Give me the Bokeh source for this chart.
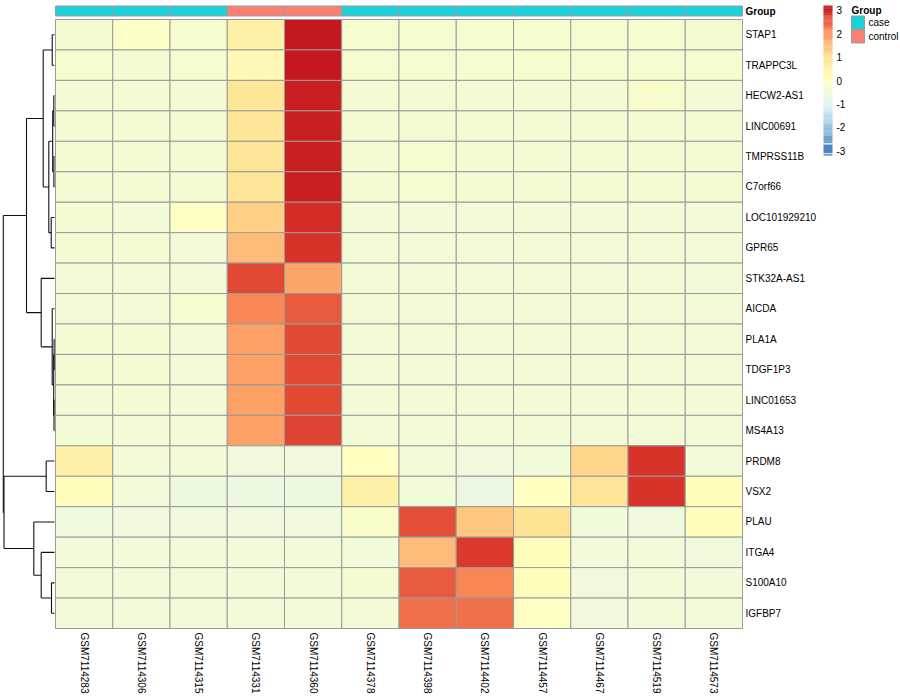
import numpy as np
from bokeh.plotting import figure
from bokeh.models import Range1d, ColumnDataSource, LinearColorMapper
from bokeh.transform import transform
from bokeh.core.properties import value
from bokeh.embed import file_html
from bokeh.resources import INLINE

# ---------------- data ----------------
samples = ["GSM7114283", "GSM7114306", "GSM7114315", "GSM7114331", "GSM7114360", "GSM7114378",
           "GSM7114398", "GSM7114402", "GSM7114457", "GSM7114467", "GSM7114519", "GSM7114573"]
groups = ["case", "case", "case", "control", "control", "case",
          "case", "case", "case", "case", "case", "case"]
genes = ["STAP1", "TRAPPC3L", "HECW2-AS1", "LINC00691", "TMPRSS11B", "C7orf66",
         "LOC101929210", "GPR65", "STK32A-AS1", "AICDA", "PLA1A", "TDGF1P3",
         "LINC01653", "MS4A13", "PRDM8", "VSX2", "PLAU", "ITGA4", "S100A10", "IGFBP7"]

z_STAP1 = [-0.36, -0.12, -0.34, 0.50, 3.10, -0.34, -0.33, -0.34, -0.32, -0.33, -0.34, -0.35]
z_TRAPPC3L = [-0.33, -0.35, -0.33, 0.20, 3.12, -0.32, -0.31, -0.32, -0.27, -0.31, -0.33, -0.34]
z_HECW2AS1 = [-0.35, -0.38, -0.39, 0.85, 3.05, -0.38, -0.38, -0.36, -0.38, -0.36, -0.22, -0.40]
z_LINC00691 = [-0.35, -0.37, -0.36, 0.90, 3.04, -0.36, -0.35, -0.38, -0.37, -0.38, -0.38, -0.38]
z_TMPRSS11B = [-0.35, -0.35, -0.35, 0.90, 3.04, -0.36, -0.34, -0.35, -0.36, -0.38, -0.35, -0.37]
z_C7orf66 = [-0.35, -0.35, -0.35, 0.90, 3.04, -0.36, -0.34, -0.35, -0.35, -0.38, -0.35, -0.36]
z_LOC101929210 = [-0.39, -0.41, -0.06, 1.24, 2.97, -0.41, -0.41, -0.41, -0.41, -0.41, -0.41, -0.42]
z_GPR65 = [-0.37, -0.37, -0.40, 1.49, 2.90, -0.40, -0.40, -0.40, -0.40, -0.40, -0.40, -0.42]
z_STK32AAS1 = [-0.42, -0.41, -0.42, 2.71, 1.80, -0.43, -0.42, -0.42, -0.42, -0.44, -0.44, -0.45]
z_AICDA = [-0.41, -0.42, -0.30, 2.13, 2.55, -0.43, -0.42, -0.42, -0.42, -0.44, -0.44, -0.44]
z_PLA1A = [-0.39, -0.39, -0.42, 1.87, 2.71, -0.42, -0.42, -0.42, -0.42, -0.44, -0.44, -0.44]
z_TDGF1P3 = [-0.39, -0.38, -0.42, 1.87, 2.71, -0.42, -0.42, -0.42, -0.42, -0.44, -0.44, -0.44]
z_LINC01653 = [-0.40, -0.39, -0.42, 1.87, 2.71, -0.42, -0.41, -0.42, -0.42, -0.44, -0.44, -0.44]
z_MS4A13 = [-0.40, -0.40, -0.42, 1.87, 2.73, -0.42, -0.41, -0.42, -0.42, -0.44, -0.44, -0.44]
z_PRDM8 = [0.50, -0.42, -0.42, -0.52, -0.52, -0.03, -0.45, -0.55, -0.49, 1.15, 2.92, -0.45]
z_VSX2 = [0.05, -0.47, -0.62, -0.62, -0.62, 0.50, -0.47, -0.65, 0.00, 0.90, 2.90, 0.05]
z_PLAU = [-0.59, -0.57, -0.59, -0.59, -0.59, -0.19, 2.64, 1.35, 0.95, -0.47, -0.57, 0.05]
z_ITGA4 = [-0.47, -0.47, -0.47, -0.47, -0.47, -0.45, 1.49, 2.86, 0.05, -0.47, -0.49, -0.52]
z_S100A10 = [-0.47, -0.47, -0.47, -0.47, -0.47, -0.37, 2.55, 2.13, 0.05, -0.52, -0.49, -0.47]
z_IGFBP7 = [-0.49, -0.49, -0.49, -0.49, -0.49, -0.42, 2.33, 2.33, -0.08, -0.52, -0.49, -0.49]

z_rows = [z_STAP1, z_TRAPPC3L, z_HECW2AS1, z_LINC00691, z_TMPRSS11B, z_C7orf66,
          z_LOC101929210, z_GPR65, z_STK32AAS1, z_AICDA, z_PLA1A, z_TDGF1P3,
          z_LINC01653, z_MS4A13, z_PRDM8, z_VSX2, z_PLAU, z_ITGA4, z_S100A10, z_IGFBP7]

# row dendrogram (scipy-like linkage: new cluster ids start at 20)
merge_a = [0, 2, 4, 21, 6, 23, 20, 10, 12, 27, 9, 8, 26, 14, 18, 17, 16, 33, 32]
merge_b = [1, 3, 5, 22, 7, 24, 25, 11, 13, 28, 29, 30, 31, 15, 19, 34, 35, 36, 37]
merge_h = [2.3, 0.7, 0.6, 1.8, 3.3, 5.7, 11.3, 0.4, 0.5, 0.8, 2.3, 13.3, 28.0,
           8.3, 3.0, 13.3, 20.7, 50.5, 51.2]

legend_ticks = [3, 2, 1, 0, -1, -2, -3]
group_levels = ["case", "control"]
group_colors = ["#1CD2DA", "#FA8072"]

# ---------------- layout ----------------
W, H = 900, 700
HM_L, HM_R, HM_T, HM_B = 55, 742, 19, 628
ncol, nrow = len(samples), len(genes)
cw = (HM_R - HM_L) / ncol
rh = (HM_B - HM_T) / nrow


def fx(px):
    return (px - HM_L) / cw


def fy(py):
    return (py - HM_T) / rh


FONT = value("Liberation Sans")

zmax = 3.17
pal_pos = [-3.17, -2.11, -1.06, 0.0, 1.06, 2.11, 2.95, 3.17]
pal_col = ["#4575B4", "#91BFDB", "#E0F3F8", "#FFFFBF", "#FEE090", "#FC8D59", "#D73027", "#BE111B"]


def make_palette(n=128):
    rgb = np.array([[int(s[i:i + 2], 16) for i in (1, 3, 5)] for s in pal_col], float)
    t = np.linspace(-zmax, zmax, n)
    out = []
    for tt in t:
        c = [np.interp(tt, pal_pos, rgb[:, k]) for k in range(3)]
        out.append("#%02x%02x%02x" % tuple(int(round(v)) for v in c))
    return out


palette = make_palette(128)
mapper = LinearColorMapper(palette=palette, low=-zmax, high=zmax)

p = figure(width=W, height=H, output_backend="svg", toolbar_location=None,
           x_range=Range1d(fx(0), fx(W)), y_range=Range1d(fy(H), fy(0)),
           x_axis_location=None, y_axis_location=None, min_border=0,
           background_fill_color="white", border_fill_color="white")
p.outline_line_color = None
p.grid.visible = False

# heatmap cells
xs, ys, vs = [], [], []
for r, row in enumerate(z_rows):
    for c, v in enumerate(row):
        xs.append(c + 0.5)
        ys.append(r + 0.5)
        vs.append(v)
hm = ColumnDataSource(dict(x=xs, y=ys, z=vs))
p.rect(x="x", y="y", width=1, height=1, source=hm,
       fill_color=transform("z", mapper), line_color="#9a9a9a", line_width=1)

# annotation bar
ann = ColumnDataSource(dict(
    left=[c for c in range(ncol)], right=[c + 1 for c in range(ncol)],
    top=[fy(5.5)] * ncol, bottom=[fy(15.5)] * ncol,
    color=[group_colors[group_levels.index(g)] for g in groups]))
p.quad(left="left", right="right", top="top", bottom="bottom", source=ann,
       fill_color="color", line_color="#9a9a9a", line_width=1)
p.text(x=[fx(745)], y=[fy(10.5)], text=["Group"], text_font=FONT, text_font_size="10px",
       text_font_style="bold", text_baseline="middle", text_align="left", text_color="black")

# row labels
p.text(x=[fx(745)] * nrow, y=[r + 0.5 for r in range(nrow)], text=genes, text_font=FONT,
       text_font_size="10px", text_baseline="middle", text_align="left", text_color="black")

# column labels
p.text(x=[c + 0.5 for c in range(ncol)], y=[fy(632)] * ncol, text=samples, text_font=FONT,
       text_font_size="10px", text_baseline="middle", text_align="left", angle=-np.pi / 2,
       text_color="black")

# dendrogram
pos = {i: i + 0.5 for i in range(nrow)}
hgt = {i: 0.0 for i in range(nrow)}
edge_px = 54.0
x0s, y0s, x1s, y1s = [], [], [], []


def hx(h):
    return fx(edge_px - h)


for k, (a, b, h) in enumerate(zip(merge_a, merge_b, merge_h)):
    nid = nrow + k
    pos[nid] = (pos[a] + pos[b]) / 2
    hgt[nid] = h
    x0s.append(hx(h)); y0s.append(pos[a]); x1s.append(hx(h)); y1s.append(pos[b])
    for ch in (a, b):
        x0s.append(hx(h)); y0s.append(pos[ch]); x1s.append(hx(hgt[ch])); y1s.append(pos[ch])
p.segment(x0=x0s, y0=y0s, x1=x1s, y1=y1s, line_color="#111111", line_width=1.1)

# color legend
LZ, LU = 80.0, 23.4  # px of zero, px per unit


def lv(v):
    return fy(LZ - LU * v)


grad_lo, grad_hi = -2.35, 3.2
n_g = 140
edges = np.linspace(grad_lo, grad_hi, n_g + 1)
cb_left, cb_right = fx(823), fx(832)
bands_lo = list(edges[:-1]) + [-2.68, -3.11, -3.2]
bands_hi = list(edges[1:] + 0.01) + [-2.35, -2.74, -3.15]
bands_v = [(a + b) / 2 for a, b in zip(bands_lo, bands_hi)]
cb = ColumnDataSource(dict(left=[cb_left] * len(bands_v), right=[cb_right] * len(bands_v),
                           top=[lv(b) for b in bands_hi], bottom=[lv(a) for a in bands_lo],
                           v=bands_v))
p.quad(left="left", right="right", top="top", bottom="bottom", source=cb,
       fill_color=transform("v", mapper), line_color=None)
p.text(x=[fx(836)] * len(legend_ticks), y=[lv(t) for t in legend_ticks],
       text=[str(t) for t in legend_ticks], text_font=FONT, text_font_size="10px",
       text_baseline="middle", text_align="left", text_color="black")

# group legend
p.text(x=[fx(851)], y=[fy(10)], text=["Group"], text_font=FONT, text_font_size="10px",
       text_font_style="bold", text_baseline="middle", text_align="left", text_color="black")
gl = ColumnDataSource(dict(left=[fx(851)] * 2, right=[fx(864)] * 2,
                           top=[fy(15.5), fy(29)], bottom=[fy(29), fy(42.5)],
                           color=group_colors))
p.quad(left="left", right="right", top="top", bottom="bottom", source=gl,
       fill_color="color", line_color="#9a9a9a", line_width=1)
p.text(x=[fx(868)] * 2, y=[fy(22), fy(36)], text=group_levels, text_font=FONT,
       text_font_size="10px", text_baseline="middle", text_align="left", text_color="black")

open("out.html", "w").write(file_html(p, INLINE))
